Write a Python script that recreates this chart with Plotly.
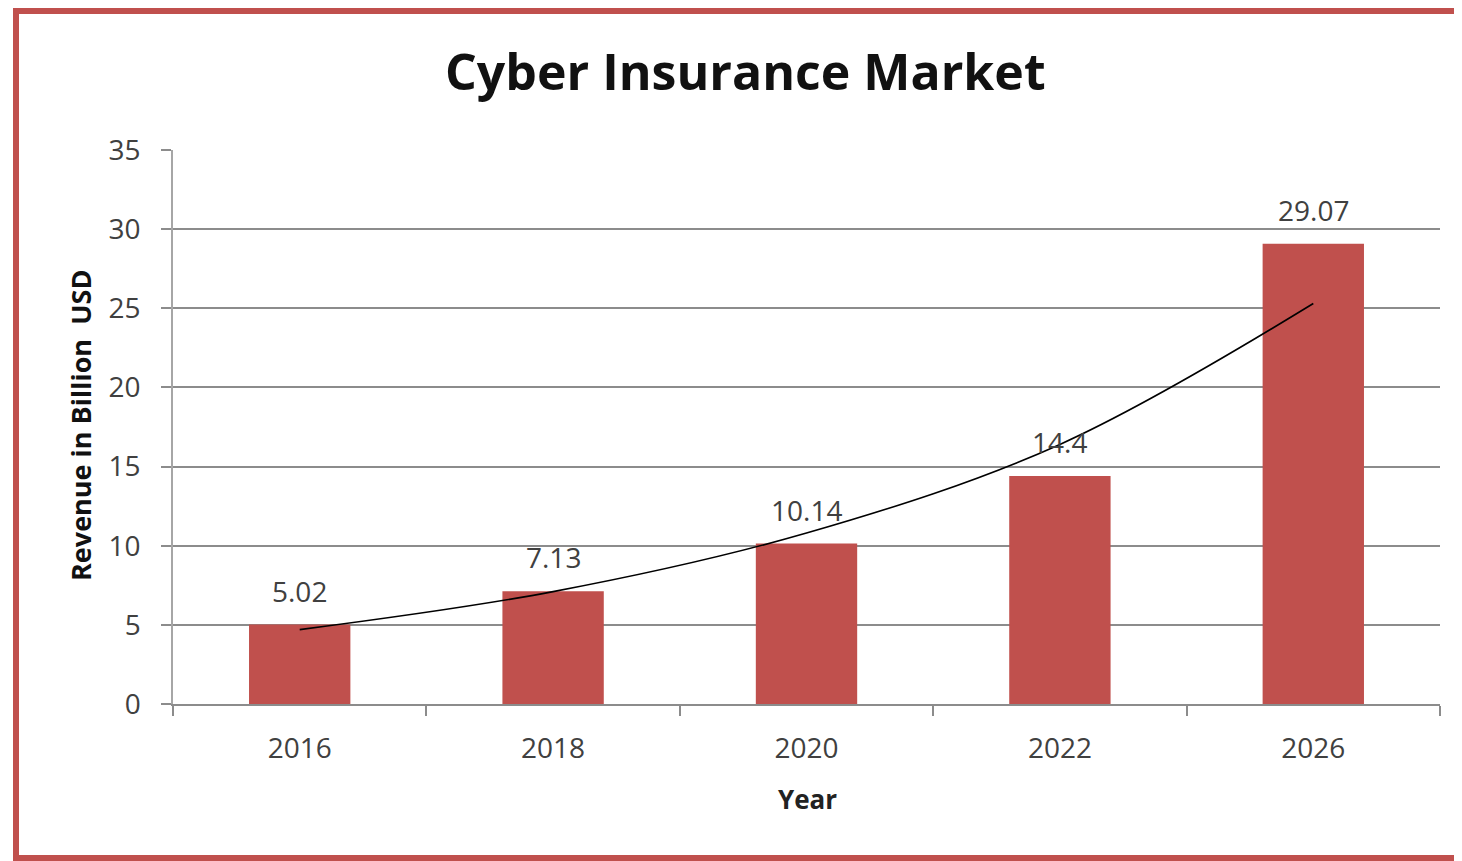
import plotly.graph_objects as go

years = ["2016", "2018", "2020", "2022", "2026"]
revenue = [5.02, 7.13, 10.14, 14.4, 29.07]
revenue_labels = ["5.02", "7.13", "10.14", "14.4", "29.07"]
trend = [4.7, 7.1, 10.8, 16.4, 25.3]
y_ticks = [0, 5, 10, 15, 20, 25, 30, 35]

OFF = 8  # page offset of the plot div
W, H = 1462 - OFF, 861 - OFF
L, R, T = 173 - OFF, W - (1440 - OFF), 150 - OFF
B = H - (704 - OFF)
pw, ph = W - L - R, H - T - B

def px_x(p):
    return (p - OFF - L) / pw

def px_y(p):
    return (H - B - (p - OFF)) / ph

BAR = "#C0504D"
GRID = "#8C8C8C"
TXT = "#404040"
FONT = "Open Sans"

fig = go.Figure()
fig.add_trace(go.Bar(x=years, y=revenue, marker=dict(color=BAR, line=dict(width=0)),
                     width=0.4, showlegend=False, hoverinfo="x+y"))
fig.add_trace(go.Scatter(x=years, y=trend, mode="lines",
                         line=dict(color="black", width=1.6, shape="spline", smoothing=1.0),
                         showlegend=False, hoverinfo="skip"))

for i, (v, lab) in enumerate(zip(revenue, revenue_labels)):
    fig.add_annotation(x=i, y=v, xref="x", yref="y", text=lab, showarrow=False,
                       yanchor="middle", yshift=34,
                       font=dict(family=FONT, size=28, color=TXT))

fig.add_annotation(x=px_x(745), y=px_y(71), xref="paper", yref="paper",
                   text="<b>Cyber Insurance Market</b>", showarrow=False,
                   xanchor="center", yanchor="middle",
                   font=dict(family=FONT, size=50, color="#111111"))
fig.add_annotation(x=px_x(80), y=px_y(426), xref="paper", yref="paper",
                   text="<b>Revenue in Billion&nbsp; USD</b>", showarrow=False, textangle=-90,
                   xanchor="center", yanchor="middle",
                   font=dict(family=FONT, size=27, color="#111111"))
fig.add_annotation(x=px_x(807), y=px_y(799), xref="paper", yref="paper",
                   text="<b>Year</b>", showarrow=False,
                   xanchor="center", yanchor="middle",
                   font=dict(family=FONT, size=26, color="#222222"))

fig.add_shape(type="rect", xref="paper", yref="paper",
              x0=px_x(16), x1=px_x(1470), y0=px_y(858), y1=px_y(11),
              line=dict(color=BAR, width=6), fillcolor="rgba(0,0,0,0)", layer="below")

fig.update_layout(
    width=W, height=H,
    margin=dict(l=L, r=R, t=T, b=B, autoexpand=False),
    paper_bgcolor="white", plot_bgcolor="white",
    xaxis=dict(type="category", range=[-0.5, 4.5], showgrid=False, showline=True,
               linecolor=GRID, linewidth=1.5,
               ticks="outside", tickson="boundaries", ticklen=10, tickcolor=GRID, tickwidth=1.5,
               tickfont=dict(family=FONT, size=28, color=TXT), ticklabelstandoff=19,
               tickangle=0, fixedrange=True),
    yaxis=dict(range=[0, 35], tickvals=y_ticks, showgrid=True, gridcolor=GRID, gridwidth=1.5,
               showline=True, linecolor="#A6A6A6", linewidth=1.5, zeroline=False,
               ticks="outside", ticklen=10, tickcolor=GRID, tickwidth=1.5,
               tickfont=dict(family=FONT, size=28, color=TXT), ticklabelstandoff=15,
               fixedrange=True),
)

fig.write_html("out.html")
